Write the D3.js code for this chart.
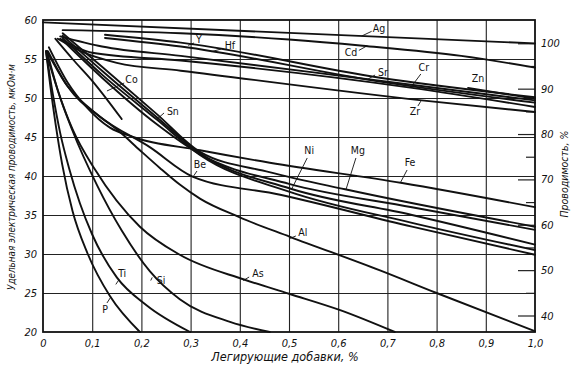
<!DOCTYPE html>
<html><head><meta charset="utf-8">
<script src="https://cdn.jsdelivr.net/npm/d3@7"></script>
<style>
html,body{margin:0;padding:0;background:#fff;}
svg{display:block;}
text{fill:#111;}
</style></head>
<body>
<svg id="c" width="578" height="373"></svg>
<script>
// ---- tick labels ----
const xTicks = [0,0.1,0.2,0.3,0.4,0.5,0.6,0.7,0.8,0.9,1.0];
const yTicks = [20,25,30,35,40,45,50,55,60];
const rightTicks = [40,50,60,70,80,90,100];
const rightMinor = [45,55,65,75,85,95];

// ---- series: [addition %, conductivity] ----
const Ag = [[0,59.7],[1.0,57.0]];
const Cd = [[0.04,58.7],[0.28,58.3],[0.5,57.5],[0.65,56.7],[0.85,55.4],[1.0,53.9]];
const Y  = [[0.126,58.1],[0.28,57.1],[0.685,52.6],[1.0,50.1]];
const Hf = [[0.126,57.7],[0.28,56.6],[0.685,52.1],[1.0,49.4]];
const Sr = [[0.035,57.9],[0.12,56.6],[0.28,55.4],[0.66,52.4],[1.0,49.7]];
const Cr = [[0.035,57.6],[0.1,55.8],[0.28,54.8],[0.75,51.3],[1.0,48.85]];
const Zr = [[0.03,57.6],[0.08,55.9],[0.15,54.5],[0.28,53.5],[0.77,49.7],[1.0,48.2]];
const Zn = [[0.864,51.3],[1.0,49.9]];
const Co = [[0.025,57.6],[0.06,55.0],[0.1,52.2],[0.16,47.3]];
const Mg = [[0.04,58.3],[0.12,54.0],[0.232,47.9],[0.319,43.1],[0.46,40.5],[0.614,38.3],[1.0,33.5]];
const Ni = [[0.04,58.0],[0.12,53.5],[0.232,47.5],[0.319,42.9],[0.502,38.4],[0.75,35.0],[1.0,31.2]];
const Sn = [[0.04,57.7],[0.12,53.0],[0.232,47.2],[0.319,42.7],[0.5,38.0],[0.75,34.0],[1.0,30.5]];
const Un = [[0.04,57.4],[0.12,52.6],[0.232,46.6],[0.319,42.8],[0.5,39.0],[0.75,36.0],[1.0,33.1]];
const Fe = [[0.012,56.5],[0.05,52.0],[0.089,48.8],[0.136,46.2],[0.183,45.0],[0.319,43.3],[0.461,41.7],[0.73,39.1],[1.0,36.0]];
const Be = [[0.01,56.0],[0.05,51.5],[0.116,47.6],[0.217,43.7],[0.305,39.9],[0.482,37.6],[0.75,33.5],[1.0,29.9]];
const Al = [[0.008,56.0],[0.05,51.5],[0.1,48.4],[0.157,45.6],[0.197,43.3],[0.238,41.0],[0.278,38.9],[0.319,37.1],[0.4,34.7],[0.502,32.2],[0.685,27.9],[0.8,25.0],[1.0,20.1]];
const As = [[0.008,55.5],[0.03,51.0],[0.06,46.0],[0.106,40.8],[0.197,33.5],[0.278,29.9],[0.41,26.7],[0.5,24.9],[0.604,22.8],[0.715,20.0]];
const Si = [[0.008,56.0],[0.03,51.0],[0.06,45.8],[0.11,38.8],[0.16,33.0],[0.217,27.8],[0.278,24.2],[0.38,21.3],[0.461,20.0]];
const Ti = [[0.006,56.0],[0.02,50.5],[0.035,45.5],[0.053,41.0],[0.075,36.5],[0.1,32.5],[0.15,27.0],[0.211,23.4],[0.299,20.0]];
const P  = [[0.006,56.0],[0.015,51.5],[0.026,46.5],[0.039,41.5],[0.06,35.5],[0.091,30.0],[0.136,24.6],[0.197,20.0]];

const seriesList = [Ag,Cd,Y,Hf,Sr,Cr,Zr,Zn,Co,Mg,Ni,Sn,Un,Fe,Be,Al,As,Si,Ti,P];

// ---- labels: [text, textX, textY, leaderX1, leaderY1, leaderX2, leaderY2] (data units) ----
const labels = [
  ["Ag",0.683,58.85,0.668,58.55,0.648,57.95],
  ["Cd",0.626,55.77,0.642,56.1,0.659,56.7],
  ["Y",0.317,57.44,0.307,57.05,0.295,56.75],
  ["Hf",0.38,56.67,0.362,56.28,0.343,55.95],
  ["Sr",0.691,53.2,0.675,52.95,0.661,52.44],
  ["Cr",0.774,53.85,0.768,53.08,0.748,51.4],
  ["Zn",0.884,52.44,null,null,null,null],
  ["Zr",0.756,48.2,0.762,48.97,0.768,49.6],
  ["Co",0.18,52.31,0.165,51.92,0.13,50.9],
  ["Sn",0.264,48.2,0.246,48.08,0.232,47.3],
  ["Be",0.319,41.41,0.313,40.64,0.305,39.9],
  ["Ni",0.541,43.2,0.537,42.31,0.506,38.4],
  ["Mg",0.64,43.2,0.636,42.31,0.616,38.3],
  ["Fe",0.746,41.67,0.74,40.77,0.726,39.1],
  ["Al",0.528,32.69,0.514,32.31,0.502,32.0],
  ["As",0.437,27.44,0.419,27.05,0.407,26.6],
  ["Si",0.24,26.54,0.222,27.0,0.219,26.6],
  ["Ti",0.161,27.44,0.154,26.67,0.148,26.1],
  ["P",0.126,22.82,0.13,23.72,0.138,24.5]
];

const svg = d3.select("#c");
const L = 43, R = 535, T = 20, B = 332;
const x = d3.scaleLinear().domain([0,1]).range([L,R]);
const y = d3.scaleLinear().domain([20,60]).range([B,T]);
const yR = d3.scaleLinear().domain([40,100]).range([315.5,43.3]);
const fmt = v => v === 0 ? "0" : d3.format(".1f")(v).replace(".", ",");
const font = "'DejaVu Sans Condensed','DejaVu Sans',sans-serif";

// grid via axes
const gx = svg.append("g").attr("transform",`translate(0,${B})`)
  .call(d3.axisBottom(x).tickValues(xTicks.slice(1,-1)).tickSize(-(B-T)).tickFormat(""));
gx.select(".domain").remove();
gx.selectAll("line").attr("stroke","#222").attr("stroke-width",1.1);
const gy = svg.append("g").attr("transform",`translate(${L},0)`)
  .call(d3.axisLeft(y).tickValues(yTicks.slice(1,-1)).tickSize(-(R-L)).tickFormat(""));
gy.select(".domain").remove();
gy.selectAll("line").attr("stroke","#222").attr("stroke-width",1.1);

// right axis ticks (inside)
const gr = svg.append("g").attr("transform",`translate(${R},0)`)
  .call(d3.axisLeft(yR).tickValues(rightTicks).tickSize(17).tickFormat(""));
gr.select(".domain").remove();
gr.selectAll("line").attr("stroke","#222").attr("stroke-width",1.2);
const grm = svg.append("g").attr("transform",`translate(${R},0)`)
  .call(d3.axisLeft(yR).tickValues(rightMinor).tickSize(9).tickFormat(""));
grm.select(".domain").remove();
grm.selectAll("line").attr("stroke","#222").attr("stroke-width",1.2);

// tick labels
const xl = svg.append("g").attr("transform",`translate(0,${B})`)
  .call(d3.axisBottom(x).tickValues(xTicks).tickSize(0).tickPadding(7).tickFormat(fmt));
xl.select(".domain").remove();
xl.selectAll("text").attr("font-family",font).attr("font-style","italic").attr("font-size",11).attr("fill","#111");
const yl = svg.append("g").attr("transform",`translate(${L},0)`)
  .call(d3.axisLeft(y).tickValues(yTicks).tickSize(0).tickPadding(6).tickFormat(d=>d));
yl.select(".domain").remove();
yl.selectAll("text").attr("font-family",font).attr("font-style","italic").attr("font-size",11).attr("fill","#111");
const rl = svg.append("g").attr("transform",`translate(${R},0)`)
  .call(d3.axisRight(yR).tickValues(rightTicks).tickSize(0).tickPadding(6).tickFormat(d=>d));
rl.select(".domain").remove();
rl.selectAll("text").attr("font-family",font).attr("font-style","italic").attr("font-size",11).attr("fill","#111");

// curves
const line = d3.line().x(d=>x(d[0])).y(d=>y(d[1])).curve(d3.curveMonotoneX);
const plot = svg.append("g");
plot.selectAll("path.s").data(seriesList).join("path")
  .attr("class","s").attr("d",line).attr("fill","none")
  .attr("stroke","#111").attr("stroke-width",1.9).attr("stroke-linecap","round");

// frame
svg.append("rect").attr("x",L).attr("y",T).attr("width",R-L).attr("height",B-T)
  .attr("fill","none").attr("stroke","#111").attr("stroke-width",1.8);

// labels
const lg = svg.append("g");
labels.forEach(l=>{
  if (l[3] !== null) {
    lg.append("line").attr("x1",x(l[3])).attr("y1",y(l[4])).attr("x2",x(l[5])).attr("y2",y(l[6]))
      .attr("stroke","#111").attr("stroke-width",0.9);
  }
  lg.append("text").attr("x",x(l[1])).attr("y",y(l[2])).attr("text-anchor","middle")
    .attr("dominant-baseline","middle").attr("font-family",font).attr("font-size",10.5).text(l[0]);
});

// axis titles
svg.append("text").attr("x",285).attr("y",361).attr("text-anchor","middle")
  .attr("font-family",font).attr("font-style","italic").attr("font-size",12.5)
  .text("Легирующие добавки, %");
svg.append("text").attr("transform","translate(15,177) rotate(-90)").attr("text-anchor","middle")
  .attr("font-family",font).attr("font-style","italic").attr("font-size",9.8)
  .text("Удельная электрическая проводимость, мкОм·м");
svg.append("text").attr("transform","translate(568,174) rotate(-90)").attr("text-anchor","middle")
  .attr("font-family",font).attr("font-style","italic").attr("font-size",10.5)
  .text("Проводимость, %");
</script>
</body></html>
